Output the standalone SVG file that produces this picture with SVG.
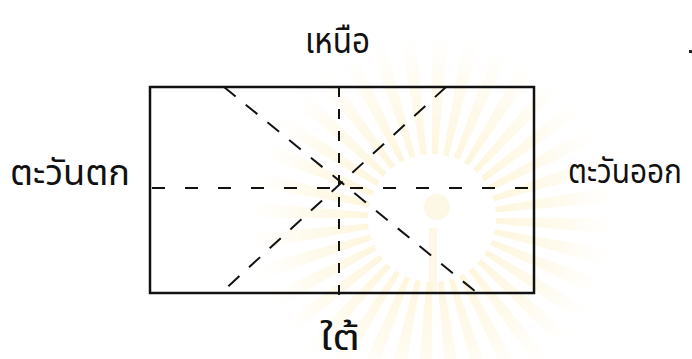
<svg xmlns="http://www.w3.org/2000/svg" width="692" height="359" viewBox="0 0 692 359">
  <defs>
    <radialGradient id="rayGrad" gradientUnits="userSpaceOnUse" cx="432" cy="218" r="185">
      <stop offset="0.3" stop-color="#fbeab0" stop-opacity="0.45"/>
      <stop offset="0.7" stop-color="#fcefc4" stop-opacity="0.3"/>
      <stop offset="1" stop-color="#fdf6dc" stop-opacity="0"/>
    </radialGradient>
    <style>
      .lbl { font-family: "Noto Sans Thai", "Noto Sans", "DejaVu Sans", sans-serif; font-size: 36px; fill: #111; }
      .frame { fill: none; stroke: #111; stroke-width: 2.5; }
      .dash { fill: none; stroke: #111; stroke-width: 2; }
      .h { stroke-dasharray: 13 20; }
      .v { stroke-dasharray: 10 12; }
      .d { stroke-dasharray: 15 13; }
    </style>
  </defs>
  <rect width="692" height="359" fill="#ffffff"/>
  <g id="watermark">
    <circle cx="432" cy="218" r="122" fill="none" stroke="url(#rayGrad)" stroke-width="116" pathLength="360" stroke-dasharray="5 5"/>
    <circle cx="432" cy="218" r="62" fill="#ffffff"/>
    <circle cx="437" cy="207" r="13" fill="#fcf4da" opacity="0.7"/>
    <rect x="429" y="228" width="8" height="64" fill="#fcf4da" opacity="0.7"/>
  </g>
  <g id="frame">
    <rect class="frame" x="150" y="87" width="384" height="206"/>
  </g>
  <g id="connectors">
    <line class="dash h" x1="152" y1="188" x2="534" y2="188"/>
    <line class="dash v" x1="339" y1="87" x2="339" y2="302"/>
    <line class="dash d" x1="224" y1="87" x2="476" y2="292"/>
    <line class="dash d" x1="446" y1="87" x2="222" y2="292"/>
  </g>
  <g id="north"><text class="lbl" x="305" y="53" textLength="65" lengthAdjust="spacingAndGlyphs">เหนือ</text></g>
  <g id="west"><text class="lbl" x="10" y="185" textLength="120" lengthAdjust="spacingAndGlyphs">ตะวันตก</text></g>
  <g id="east"><text class="lbl" x="568" y="183" style="font-size:33px" textLength="114" lengthAdjust="spacingAndGlyphs">ตะวันออก</text></g>
  <g id="south"><text class="lbl" x="320" y="350" textLength="40" lengthAdjust="spacingAndGlyphs">ใต้</text></g>
  <rect x="689" y="50" width="3" height="3" fill="#222"/>
</svg>
